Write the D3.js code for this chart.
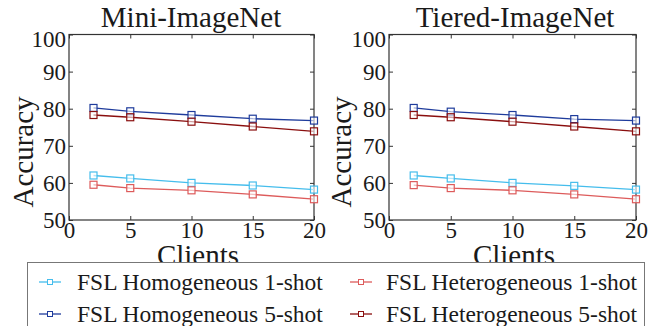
<!DOCTYPE html>
<html><head><meta charset="utf-8">
<script src="https://cdn.jsdelivr.net/npm/d3@7"></script>
<style>body{margin:0;background:#fff}svg{display:block}text{font-family:"Liberation Serif";fill:#1a1a1a}</style>
</head><body><svg id="c" width="666" height="326"></svg>
<script>
const clients = [2, 5, 10, 15, 20];
const xTicks = [0, 5, 10, 15, 20];
const yTicks = [50, 60, 70, 80, 90, 100];
const panelTitles = ["Mini-ImageNet", "Tiered-ImageNet"];
const seriesNames = ["FSL Homogeneous 1-shot", "FSL Homogeneous 5-shot", "FSL Heterogeneous 1-shot", "FSL Heterogeneous 5-shot"];
const seriesColors = ["#45bdec", "#1f3c9c", "#dd5b5b", "#8a0f0f"];
// Mini-ImageNet
const miniHomo1 = [62.0, 61.2, 60.0, 59.3, 58.2];
const miniHomo5 = [80.2, 79.3, 78.3, 77.3, 76.8];
const miniHet1  = [59.5, 58.6, 58.0, 56.9, 55.6];
const miniHet5  = [78.3, 77.7, 76.5, 75.2, 73.9];
// Tiered-ImageNet
const tierHomo1 = [62.0, 61.2, 60.0, 59.2, 58.2];
const tierHomo5 = [80.2, 79.2, 78.3, 77.2, 76.8];
const tierHet1  = [59.4, 58.6, 58.0, 56.9, 55.6];
const tierHet5  = [78.3, 77.7, 76.5, 75.2, 73.9];

const panelData = [
  [miniHomo1, miniHomo5, miniHet1, miniHet5],
  [tierHomo1, tierHomo5, tierHet1, tierHet5]
];
const svg = d3.select("#c");
const panels = [
  {x0: 69, x1: 314, acc: 23, clientsX: 198, titleX: 191},
  {x0: 389, x1: 636, acc: 341, clientsX: 514, titleX: 515}
];
const yTop = 34.5, yBot = 220;
const axisCol = "#333";

panels.forEach((p, pi) => {
  const x = d3.scaleLinear().domain([0, 20]).range([p.x0, p.x1]);
  const y = d3.scaleLinear().domain([50, 100]).range([yBot, yTop]);
  const g = svg.append("g");
  g.append("text").attr("x", p.clientsX).attr("y", 265).attr("text-anchor", "middle")
    .attr("font-size", 29).text("Clients");
  g.append("rect").attr("x", p.x0).attr("y", yTop).attr("width", p.x1 - p.x0).attr("height", yBot - yTop)
    .attr("fill", "none").attr("stroke", axisCol).attr("stroke-width", 1.2);
  const xa = g.append("g").attr("transform", `translate(0,${yBot})`)
    .call(d3.axisBottom(x).tickValues(xTicks).tickSizeInner(-4).tickSizeOuter(0).tickPadding(2));
  const ya = g.append("g").attr("transform", `translate(${p.x0},0)`)
    .call(d3.axisLeft(y).tickValues(yTicks).tickSizeInner(-4).tickSizeOuter(0).tickPadding(3));
  const xt = g.append("g").attr("transform", `translate(0,${yTop})`)
    .call(d3.axisTop(x).tickValues(xTicks).tickSizeInner(-4).tickSizeOuter(0).tickFormat(""));
  const yr = g.append("g").attr("transform", `translate(${p.x1},0)`)
    .call(d3.axisRight(y).tickValues(yTicks).tickSizeInner(-4).tickSizeOuter(0).tickFormat(""));
  [xa, ya, xt, yr].forEach(a => {
    a.select(".domain").remove();
    a.selectAll("line").attr("stroke", axisCol);
    a.attr("font-family", null);
  });
  xa.selectAll("text").attr("font-size", 23);
  ya.selectAll("text").attr("font-size", 23).attr("dy", d => d === 100 ? "0.52em" : "0.34em");

  const line = d3.line().x((d, i) => x(clients[i])).y(d => y(d));
  panelData[pi].forEach((vals, si) => {
    g.append("path").datum(vals).attr("d", line).attr("fill", "none")
      .attr("stroke", seriesColors[si]).attr("stroke-width", 1.3);
    g.selectAll(null).data(vals).enter().append("rect")
      .attr("x", (d, i) => x(clients[i]) - 3.5).attr("y", d => y(d) - 3.5)
      .attr("width", 7).attr("height", 7).attr("fill", "#fff").attr("fill-opacity", 0.6)
      .attr("stroke", seriesColors[si]).attr("stroke-width", 1.2);
  });

  g.append("text").attr("x", p.titleX).attr("y", 27).attr("text-anchor", "middle")
    .attr("font-size", 29).text(panelTitles[pi]);
  g.append("text").attr("transform", `translate(${p.acc},${152}) rotate(-90)`).attr("text-anchor", "middle")
    .attr("dy", "0.35em").attr("font-size", 29).text("Accuracy");
});

const lg = svg.append("g");
lg.append("rect").attr("x", 27.5).attr("y", 262.5).attr("width", 617).attr("height", 80)
  .attr("fill", "#fff").attr("stroke", "#777").attr("stroke-width", 1);
const legPos = [
  {lx: 39, tx: 77, cy: 282},
  {lx: 39, tx: 77, cy: 314},
  {lx: 350, tx: 386, cy: 282},
  {lx: 350, tx: 386, cy: 314}
];
seriesNames.forEach((name, i) => {
  const p = legPos[i];
  lg.append("line").attr("x1", p.lx).attr("x2", p.lx + 22).attr("y1", p.cy).attr("y2", p.cy)
    .attr("stroke", seriesColors[i]).attr("stroke-width", 1.3);
  lg.append("rect").attr("x", p.lx + 11 - 2.5).attr("y", p.cy - 2.5).attr("width", 5).attr("height", 5)
    .attr("fill", "#fff").attr("stroke", seriesColors[i]).attr("stroke-width", 1);
  lg.append("text").attr("x", p.tx).attr("y", p.cy + 8).attr("font-size", 23.5).text(name);
});
</script></body></html>
